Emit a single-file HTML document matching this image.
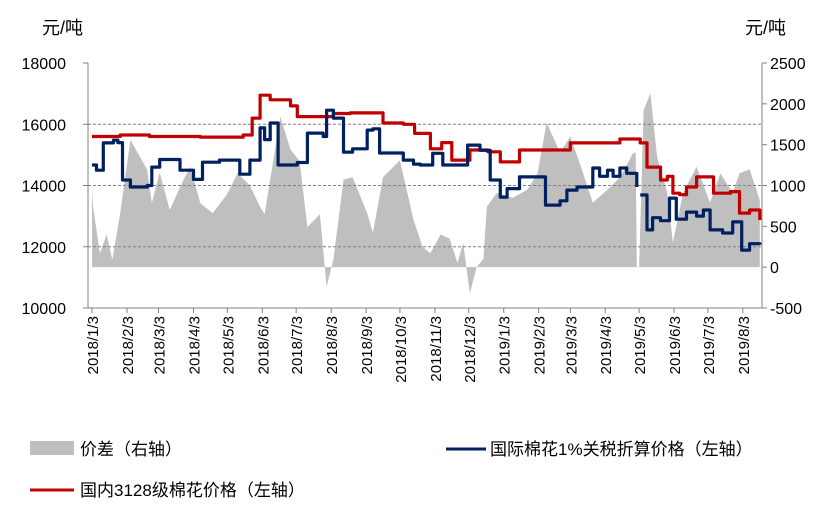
<!DOCTYPE html>
<html><head><meta charset="utf-8">
<style>
body{margin:0;background:#fff;}
svg text{font-family:"Liberation Sans","Noto Sans CJK SC",sans-serif;fill:#000;}
</style></head>
<body>
<svg id="c" width="834" height="510" xmlns="http://www.w3.org/2000/svg"></svg>
<script>
const leftTicks=[10000,12000,14000,16000,18000];
const rightTicks=[-500,0,500,1000,1500,2000,2500];
const monthLabels=["2018/1/3","2018/2/3","2018/3/3","2018/4/3","2018/5/3","2018/6/3","2018/7/3","2018/8/3","2018/9/3","2018/10/3","2018/11/3","2018/12/3","2019/1/3","2019/2/3","2019/3/3","2019/4/3","2019/5/3","2019/6/3","2019/7/3","2019/8/3"];
const spreadDays=[0,1,7,13,18,25,34,49,53,60,69,78,87,96,107,120,129,140,149,153,167,176,184,191,202,208,214,223,231,244,249,258,273,285,293,300,309,317,324,329,335,341,347,350,359,373,386,395,403,415,424,433,444,457,468,480,482,483,485,489,495,501,510,515,524,536,548,557,568,574,583,592];
const spreadVals=[945,737,170,400,90,660,1560,1190,785,1160,700,980,1230,785,660,900,1150,1000,737,650,1840,1440,1300,490,650,-240,90,1070,1100,660,420,1100,1310,580,250,170,400,350,50,300,-320,0,100,740,910,850,950,1150,1770,1400,1600,1250,790,950,1100,1400,1400,0,0,1920,2130,1350,910,300,910,1230,790,1150,910,1150,1200,820];
const intlDays=[0,4,10,19,23,27,34,49,53,60,78,90,98,113,131,140,149,153,158,163,165,182,191,205,208,214,223,231,244,249,255,276,285,291,302,311,324,333,344,353,362,368,379,400,402,415,421,430,444,450,457,462,468,474,483,485,486,492,497,504,512,518,527,536,542,548,559,568,576,583,592];
const intlVals=[14670,14500,15390,15480,15400,14180,13950,14000,14600,14850,14500,14200,14760,14830,14370,14830,15880,15500,16040,16040,14670,14750,15710,15600,16460,16200,15090,15200,15810,15850,15060,14830,14700,14670,15050,14670,14670,15320,15150,14180,13620,13900,14280,14280,13360,13500,13850,13950,14570,14300,14500,14300,14570,14400,13950,null,13690,12550,12950,12850,13590,12900,13130,13000,13200,12550,12450,12810,11890,12100,12060];
const domDays=[0,25,51,96,134,142,149,158,167,176,182,205,214,229,253,258,276,286,300,310,319,335,351,362,379,409,424,444,468,480,486,492,504,510,515,521,527,536,548,551,566,574,583,592];
const domVals=[15600,15650,15600,15580,15650,16200,16950,16800,16800,16600,16250,16250,16350,16370,16370,16040,16000,15700,15200,15400,14830,15160,15100,14770,15160,15160,15390,15390,15520,15520,15390,14600,14180,14300,13750,13700,13950,14280,14280,13750,13800,13100,13200,12870];

const NS="http://www.w3.org/2000/svg";
const svg=document.getElementById('c');
const X0=88,X1=762,Y0=308,Y1=63;
const xS=d=>92+d*1.128;
const yL=v=>Y0-(v-10000)/8000*(Y0-Y1);
const yR=v=>Y0-(v+500)/3000*(Y0-Y1);
function mk(tag,attrs,parent){const e=document.createElementNS(NS,tag);for(const k in attrs)e.setAttribute(k,attrs[k]);(parent||svg).appendChild(e);return e;}

let d="M"+xS(spreadDays[0])+","+yR(0);
spreadDays.forEach((dd,i)=>{d+="L"+xS(dd).toFixed(1)+","+yR(spreadVals[i]).toFixed(1);});
d+="L"+xS(spreadDays[spreadDays.length-1])+","+yR(0)+"Z";
const area=mk('path',{d:d,fill:'#bfbfbf',stroke:'none'});



[12000,14000,16000].forEach(v=>{
 const g=mk('line',{x1:X0,x2:X1,y1:yL(v),y2:yL(v),stroke:'#808080','stroke-dasharray':'3,2','stroke-width':1});
 
 
});
const la=mk('line',{x1:X0,x2:X0,y1:Y1,y2:Y0,stroke:'#808080'});


const ra=mk('line',{x1:X1,x2:X1,y1:Y1,y2:Y0,stroke:'#808080'});


const ba=mk('line',{x1:X0,x2:X1,y1:Y0,y2:Y0,stroke:'#808080'});



leftTicks.forEach(v=>{
 const t=mk('text',{x:66,y:yL(v)+6,'text-anchor':'end','font-size':16});t.textContent=v;
 
 
 mk('line',{x1:X0-5,x2:X0,y1:yL(v),y2:yL(v),stroke:'#808080'});
});
rightTicks.forEach(v=>{
 const t=mk('text',{x:770,y:yR(v)+6,'text-anchor':'start','font-size':16});t.textContent=v;
 
 
 mk('line',{x1:X1,x2:X1+5,y1:yR(v),y2:yR(v),stroke:'#808080'});
});
const base=Date.UTC(2018,0,3);
monthLabels.forEach(s=>{
 const p=s.split('/');const dd=(Date.UTC(+p[0],+p[1]-1,+p[2])-base)/864e5;
 const x=xS(dd);
 mk('line',{x1:x,x2:x,y1:Y0,y2:Y0+5,stroke:'#808080'});
 const t=mk('text',{x:x+6,y:316,'text-anchor':'end','font-size':15,transform:`rotate(-90 ${x+6} 316)`});
 t.textContent=s;
 
 
});

function stepPath(days,vals){let s="",pen=false,py=0;days.forEach((dd,i)=>{const v=vals[i];if(v===null){pen=false;return;}const x=xS(dd).toFixed(1),y=yL(v).toFixed(1);if(pen){s+="L"+x+","+py+"L"+x+","+y;}else{s+="M"+x+","+y;}py=y;pen=true;});return s;}
const red=mk('path',{d:stepPath(domDays,domVals),fill:'none',stroke:'#c00000','stroke-width':3.2,'stroke-linejoin':'round'});


const blue=mk('path',{d:stepPath(intlDays,intlVals),fill:'none',stroke:'#002060','stroke-width':3.2,'stroke-linejoin':'round'});



const u1=mk('text',{x:42,y:34,'font-size':18});u1.textContent="元/吨";


const u2=mk('text',{x:745,y:34,'font-size':18});u2.textContent="元/吨";



const lg1=mk('rect',{x:30,y:441,width:44,height:14,fill:'#bfbfbf'});


const lt1=mk('text',{x:80,y:455,'font-size':17});lt1.textContent="价差（右轴）";


const lg2=mk('line',{x1:446,x2:486,y1:449,y2:449,stroke:'#002060','stroke-width':3});


const lt2=mk('text',{x:490,y:455,'font-size':17});lt2.textContent="国际棉花1%关税折算价格（左轴）";


const lg3=mk('line',{x1:30,x2:74,y1:490,y2:490,stroke:'#c00000','stroke-width':3});


const lt3=mk('text',{x:80,y:496,'font-size':17});lt3.textContent="国内3128级棉花价格（左轴）";


</script>
</body></html>
